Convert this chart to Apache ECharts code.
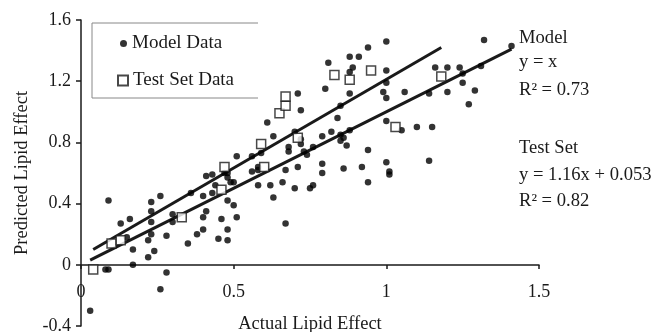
<!DOCTYPE html>
<html>
<head>
<meta charset="utf-8">
<script src="https://cdn.jsdelivr.net/npm/echarts@6/dist/echarts.min.js"></script>
<style>
  html, body { margin: 0; padding: 0; background: #fff; }
  #main { width: 654px; height: 332px; }
</style>
</head>
<body>
<div id="main"></div>
<script>
var dom = document.getElementById('main');
var myChart = echarts.init(dom);

// actual vs predicted lipid effect
var modelPoints = [
  [0.03, -0.30], [0.08, -0.03], [0.09, -0.03], [0.09, 0.42], [0.13, 0.27],
  [0.15, 0.18], [0.16, 0.30], [0.17, 0.10], [0.17, 0.00], [0.22, 0.16],
  [0.22, 0.05], [0.23, 0.35], [0.23, 0.28], [0.23, 0.41], [0.23, 0.20],
  [0.24, 0.09], [0.26, -0.16], [0.26, 0.45], [0.28, -0.05], [0.28, 0.19],
  [0.30, 0.33], [0.30, 0.28], [0.35, 0.14], [0.36, 0.47], [0.38, 0.20],
  [0.40, 0.45], [0.40, 0.31], [0.40, 0.23], [0.41, 0.35], [0.41, 0.58],
  [0.43, 0.59], [0.44, 0.52], [0.43, 0.47], [0.45, 0.17], [0.46, 0.30],
  [0.47, 0.60], [0.48, 0.60], [0.48, 0.57], [0.49, 0.54], [0.48, 0.42],
  [0.48, 0.23], [0.48, 0.16], [0.50, 0.39], [0.50, 0.54], [0.51, 0.31],
  [0.51, 0.71], [0.56, 0.71], [0.56, 0.61], [0.58, 0.62], [0.58, 0.64],
  [0.58, 0.52], [0.61, 0.93], [0.62, 0.52], [0.63, 0.44], [0.63, 0.84],
  [0.67, 0.27], [0.67, 0.62], [0.68, 0.77], [0.68, 0.74], [0.71, 1.12],
  [0.70, 0.87], [0.70, 0.50], [0.71, 0.64], [0.72, 1.01], [0.72, 0.82],
  [0.72, 0.79], [0.73, 0.74], [0.74, 0.72], [0.76, 0.77], [0.75, 0.50],
  [0.76, 0.52], [0.79, 0.84], [0.79, 0.66], [0.79, 0.60], [0.80, 1.15],
  [0.81, 1.32], [0.82, 0.87], [0.84, 0.96], [0.85, 1.04], [0.85, 0.81],
  [0.85, 0.85], [0.86, 0.83], [0.87, 0.78], [0.86, 0.63], [0.88, 1.36],
  [0.91, 1.36], [0.88, 1.26], [0.89, 1.29], [0.88, 1.12], [0.88, 0.88],
  [0.92, 0.64], [0.94, 1.42], [0.94, 0.75], [0.94, 0.54], [1.00, 1.46],
  [1.00, 1.27], [1.00, 1.19], [0.99, 1.13], [1.00, 1.09], [1.00, 0.94],
  [1.00, 0.67], [1.01, 0.61], [1.01, 0.59], [1.05, 0.88], [1.06, 1.13],
  [1.10, 0.90], [1.15, 0.90], [1.14, 1.12], [1.14, 0.68], [1.16, 1.29],
  [1.20, 1.29], [1.24, 1.29], [1.25, 1.25], [1.31, 1.30], [1.25, 1.19],
  [1.20, 1.13], [1.29, 1.14], [1.27, 1.05], [1.32, 1.47], [1.41, 1.43],
  [0.66, 0.54], [0.59, 0.73]
];

var testPoints = [
  [0.04, -0.03], [0.10, 0.14], [0.13, 0.16], [0.33, 0.31], [0.47, 0.64],
  [0.46, 0.49], [0.59, 0.79], [0.60, 0.64], [0.65, 0.99], [0.67, 1.04],
  [0.67, 1.10], [0.71, 0.83], [0.83, 1.24], [0.88, 1.21], [0.95, 1.27],
  [1.03, 0.90], [1.18, 1.23]
];

// fitted lines, end points as drawn
var modelLine = [[0.03, 0.03], [1.41, 1.41]];
var testLine = [[0.04, 0.10], [1.18, 1.42]];

var modelNotes = ['Model', 'y = x', 'R² = 0.73'];
var testNotes = ['Test Set', 'y = 1.16x + 0.053', 'R² = 0.82'];

var serif = '"Liberation Serif", "DejaVu Serif", serif';
var ink = '#1a1a1a';

function noteText(txt, y) {
  return {
    type: 'text',
    x: 519,
    y: y,
    style: {
      text: txt,
      font: '18.6px ' + serif,
      fill: ink,
      verticalAlign: 'middle'
    }
  };
}

option = {
  animation: false,
  grid: { left: 81, right: 115, top: 20, bottom: 6, containLabel: false, outerBoundsMode: 'none' },
  xAxis: {
    type: 'value',
    min: 0,
    max: 1.5,
    interval: 0.5,
    // the axis crosses at y = 0, which sits 61px above the grid bottom
    offset: -61,
    name: 'Actual Lipid Effect',
    nameLocation: 'middle',
    nameGap: 50,
    nameTextStyle: { fontFamily: serif, fontSize: 18.5, color: ink },
    axisLine: { onZero: false, lineStyle: { color: ink, width: 1.5 } },
    axisTick: { show: true, inside: false, length: 4, lineStyle: { color: ink, width: 1.5 } },
    axisLabel: { margin: 18, fontFamily: serif, fontSize: 18, color: ink, showMinLabel: true },
    splitLine: { show: false }
  },
  yAxis: {
    type: 'value',
    min: -0.4,
    max: 1.6,
    interval: 0.4,
    name: 'Predicted Lipid Effect',
    nameLocation: 'middle',
    nameGap: 46,
    nameTextStyle: { fontFamily: serif, fontSize: 18.5, color: ink },
    axisLine: { show: true, onZero: false, lineStyle: { color: ink, width: 1.5 } },
    axisTick: { show: true, length: 5, lineStyle: { color: ink, width: 1.5 } },
    axisLabel: { margin: 10, fontFamily: serif, fontSize: 18, color: ink },
    splitLine: { show: false }
  },
  legend: [{
    data: ['Model Data'],
    left: 120,
    top: 34,
    padding: 0,
    itemWidth: 7,
    itemHeight: 7,
    itemGap: 6,
    textStyle: { fontFamily: serif, fontSize: 19, color: ink }
  }, {
    data: ['Test Set Data'],
    left: 117,
    top: 71,
    padding: 0,
    itemWidth: 10,
    itemHeight: 10,
    textStyle: { fontFamily: serif, fontSize: 19, color: ink }
  }],
  graphic: [
    {
      type: 'polyline',
      shape: { points: [[258, 23], [92, 23], [92, 98], [258, 98]] },
      style: { stroke: '#888', lineWidth: 1, fill: null }
    },
    noteText(modelNotes[0], 38),
    noteText(modelNotes[1], 62),
    noteText(modelNotes[2], 90),
    noteText(testNotes[0], 148),
    noteText(testNotes[1], 175),
    noteText(testNotes[2], 201)
  ],
  series: [
    {
      name: 'Model fit',
      type: 'line',
      data: modelLine,
      symbol: 'none',
      lineStyle: { color: ink, width: 3 },
      z: 2
    },
    {
      name: 'Test fit',
      type: 'line',
      data: testLine,
      symbol: 'none',
      lineStyle: { color: ink, width: 3 },
      z: 2
    },
    {
      name: 'Model Data',
      type: 'scatter',
      data: modelPoints,
      symbol: 'circle',
      symbolSize: 6.5,
      itemStyle: { color: '#000' },
      z: 3
    },
    {
      name: 'Test Set Data',
      type: 'scatter',
      data: testPoints,
      symbol: 'rect',
      symbolSize: 9,
      itemStyle: { color: '#fff', borderColor: ink, borderWidth: 1.5 },
      z: 4
    }
  ]
};

if (option && typeof option === 'object') {
  myChart.setOption(option, true);
}
</script>
</body>
</html>
